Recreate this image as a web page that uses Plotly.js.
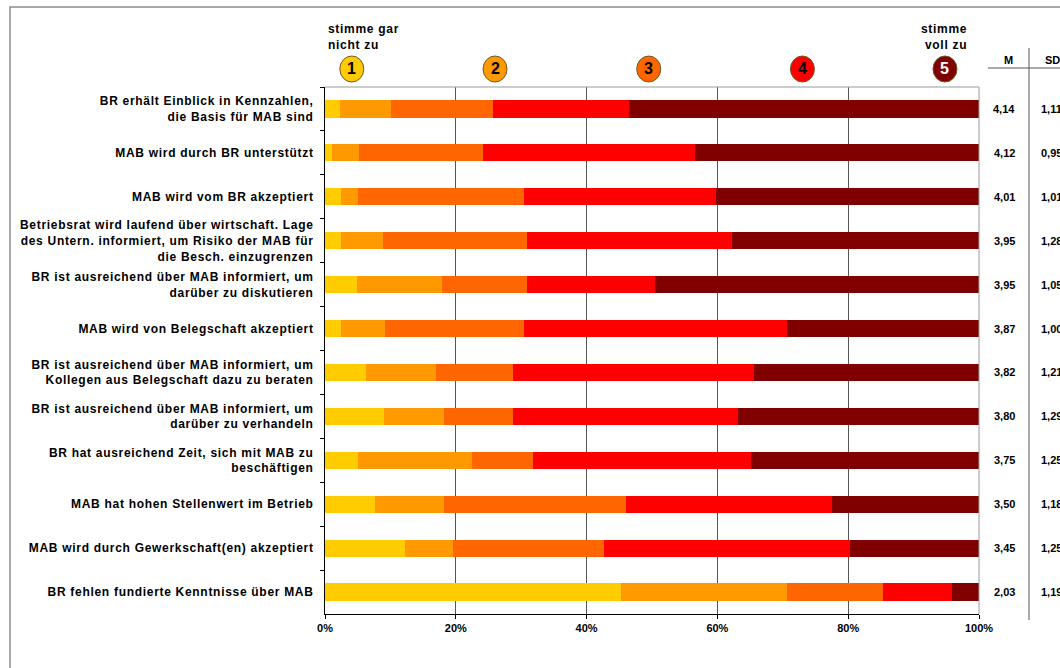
<!DOCTYPE html>
<html>
<head>
<meta charset="utf-8">
<script src="https://cdn.plot.ly/plotly-3.0.1.min.js"></script>
<style>
html,body{margin:0;padding:0;background:#fff;}
#chart{width:1060px;height:668px;}
.ytick text{letter-spacing:0.7px;}
</style>
</head>
<body>
<div id="chart"></div>
<script>
const items = [
  "BR erhält Einblick in Kennzahlen,<br>die Basis für MAB sind",
  "MAB wird durch BR unterstützt",
  "MAB wird vom BR akzeptiert",
  "Betriebsrat wird laufend über wirtschaft. Lage<br>des Untern. informiert, um Risiko der MAB für<br>die Besch. einzugrenzen",
  "BR ist ausreichend über MAB informiert, um<br>darüber zu diskutieren",
  "MAB wird von Belegschaft akzeptiert",
  "BR ist ausreichend über MAB informiert, um<br>Kollegen aus Belegschaft dazu zu beraten",
  "BR ist ausreichend über MAB informiert, um<br>darüber zu verhandeln",
  "BR hat ausreichend Zeit, sich mit MAB zu<br>beschäftigen",
  "MAB hat hohen Stellenwert im Betrieb",
  "MAB wird durch Gewerkschaft(en) akzeptiert",
  "BR fehlen fundierte Kenntnisse über MAB"
];
const level1 = [2.3, 1.1, 2.4, 2.4, 4.9, 2.4, 6.3, 9.0, 5.0, 7.6, 12.3, 45.3];
const level2 = [7.8, 4.1, 2.6, 6.5, 13.0, 6.8, 10.7, 9.2, 17.5, 10.6, 7.2, 25.3];
const level3 = [15.6, 19.0, 25.5, 22.0, 13.0, 21.3, 11.7, 10.5, 9.3, 27.8, 23.2, 14.7];
const level4 = [20.8, 32.4, 29.3, 31.3, 19.6, 40.1, 36.9, 34.4, 33.4, 31.5, 37.5, 10.6];
const level5 = [53.5, 43.4, 40.2, 37.8, 49.5, 29.4, 34.4, 36.9, 34.8, 22.5, 19.8, 4.1];
const meanVals = ["4,14","4,12","4,01","3,95","3,95","3,87","3,82","3,80","3,75","3,50","3,45","2,03"];
const sdVals = ["1,11","0,95","1,01","1,28","1,05","1,00","1,21","1,29","1,25","1,18","1,25","1,19"];
const levelNames = ["1","2","3","4","5"];
const levelColors = ["#FFCC00","#FF9900","#FF6600","#FF0000","#800000"];
const levelTextColors = ["#000","#000","#000","#000","#fff"];
const circlePos = [4.1, 26.0, 49.5, 73.0, 94.8];

const FONT = "Liberation Sans, Arial, sans-serif";
const series = [level1, level2, level3, level4, level5];

const traces = series.map((vals, i) => ({
  type: "bar", orientation: "h", name: levelNames[i],
  y: items, x: vals,
  marker: {color: levelColors[i], line: {width: 0}},
  hoverinfo: "x+y"
}));

const L = 325, R = 979, T = 87, B = 614;
const W = R - L, H = B - T;
const px = v => (v - L) / W;
const py = v => (B - v) / H;

const shapes = [
  {type:"rect", xref:"paper", yref:"paper", x0:px(10), x1:px(1075), y0:py(685), y1:py(7), line:{color:"#8c8c8c", width:1.5}, layer:"below"},
  {type:"line", xref:"paper", yref:"paper", x0:0, x1:1, y0:1, y1:1, line:{color:"#9a9a9a", width:1}},
  {type:"line", xref:"paper", yref:"paper", x0:1, x1:1, y0:0, y1:1, line:{color:"#9a9a9a", width:1}},
  {type:"line", xref:"paper", yref:"paper", x0:px(1029), x1:px(1029), y0:py(620), y1:py(48), line:{color:"#555", width:1}},
  {type:"line", xref:"paper", yref:"paper", x0:px(988), x1:px(1062), y0:py(68), y1:py(68), line:{color:"#555", width:1}}
];

const annotations = [];
circlePos.forEach((c, i) => {
  shapes.push({type:"circle", xref:"x", yref:"paper", xsizemode:"pixel", ysizemode:"pixel",
    xanchor:c, yanchor:py(69), x0:-12, x1:12, y0:-13, y1:13,
    fillcolor:levelColors[i], line:{color:"#6b5a2a", width:1}});
  annotations.push({xref:"x", yref:"paper", x:c, y:py(69), text:levelNames[i], showarrow:false,
    font:{family:FONT, size:16, weight:"bold", color:levelTextColors[i]}, xanchor:"center", yanchor:"middle"});
});
const sp = t => '<span style="letter-spacing:0.7px">' + t + '</span>';
annotations.push({xref:"paper", yref:"paper", x:px(326), y:py(37), text:sp("stimme gar") + "<br>" + sp("nicht zu"), showarrow:false,
  xanchor:"left", yanchor:"middle", align:"left", font:{family:FONT, size:12, weight:"bold", color:"#000"}});
annotations.push({xref:"paper", yref:"paper", x:px(969), y:py(37), text:sp("stimme") + "<br>" + sp("voll zu"), showarrow:false,
  xanchor:"right", yanchor:"middle", align:"right", font:{family:FONT, size:12, weight:"bold", color:"#000"}});
annotations.push({xref:"paper", yref:"paper", x:px(1008), y:py(60), text:"M", showarrow:false,
  xanchor:"center", yanchor:"middle", font:{family:FONT, size:11, weight:"bold", color:"#000"}});
annotations.push({xref:"paper", yref:"paper", x:px(1043), y:py(60), text:"SD", showarrow:false,
  xanchor:"left", yanchor:"middle", font:{family:FONT, size:11, weight:"bold", color:"#000"}});
items.forEach((it, i) => {
  annotations.push({xref:"paper", yref:"y", x:px(1004), y:it, text:meanVals[i], showarrow:false,
    xanchor:"center", yanchor:"middle", font:{family:FONT, size:11, weight:"bold", color:"#000"}});
  annotations.push({xref:"paper", yref:"y", x:px(1039), y:it, text:sdVals[i], showarrow:false,
    xanchor:"left", yanchor:"middle", font:{family:FONT, size:11, weight:"bold", color:"#000"}});
});

const layout = {
  width: 1060, height: 668,
  margin: {l: L, r: 1060 - R, t: T, b: 668 - B, pad: 0},
  paper_bgcolor: "#fff", plot_bgcolor: "#fff",
  barmode: "stack", bargap: 0.61,
  showlegend: false,
  xaxis: {
    range: [0, 100], dtick: 20, ticksuffix: "%",
    showgrid: true, gridcolor: "#555", gridwidth: 1,
    showline: true, linecolor: "#000", linewidth: 1,
    ticks: "outside", ticklen: 4, tickcolor: "#000",
    zeroline: false, fixedrange: true,
    tickfont: {family: FONT, size: 11, weight: "bold", color: "#000"}
  },
  yaxis: {
    type: "category", autorange: "reversed",
    showgrid: false, zeroline: false,
    showline: true, linecolor: "#000", linewidth: 1,
    ticks: "outside", ticklen: 4, tickcolor: "#000", tickson: "boundaries",
    ticklabelstandoff: 8,
    tickfont: {family: FONT, size: 12, weight: "bold", color: "#000"}
  },
  shapes: shapes,
  annotations: annotations
};

Plotly.newPlot("chart", traces, layout, {displayModeBar: false, responsive: false});
</script>
</body>
</html>
